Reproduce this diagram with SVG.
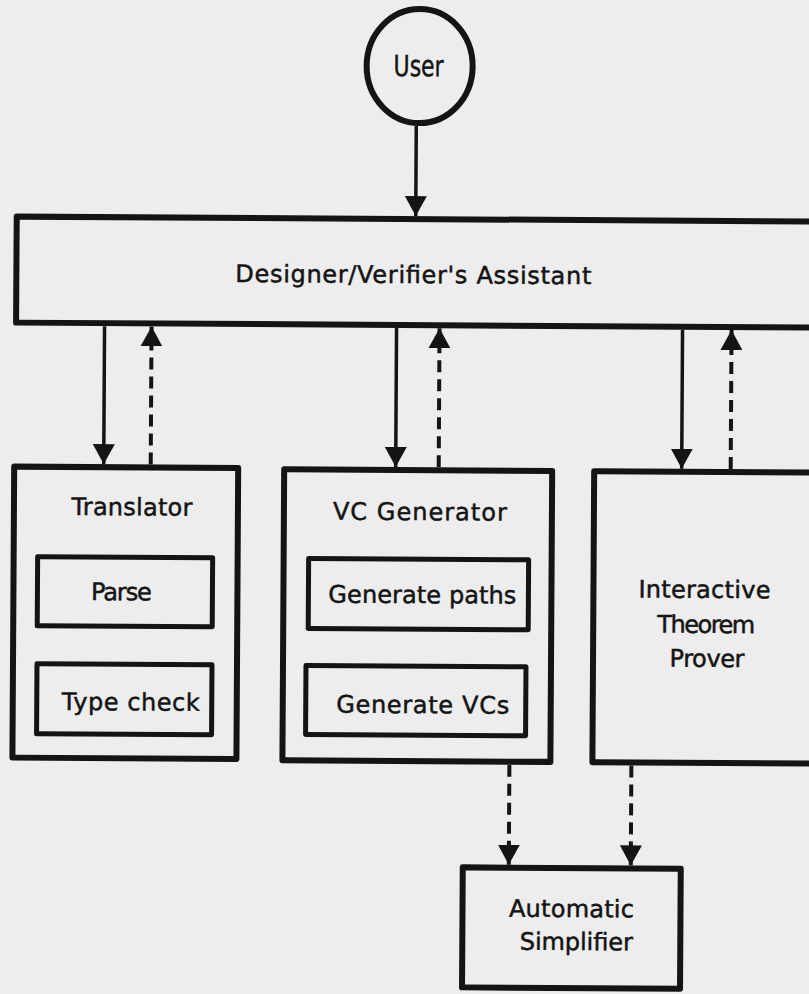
<svg xmlns="http://www.w3.org/2000/svg" width="809" height="994" viewBox="0 0 809 994">
  <defs>
    <style>
      .box { fill: none; stroke: #141414; stroke-width: 6; stroke-linejoin: round; }
      .inner { fill: none; stroke: #141414; stroke-width: 5; stroke-linejoin: round; }
      .lbl { font-family: "DejaVu Sans", "Liberation Sans", sans-serif; font-size: 24px; fill: #141414; stroke: #141414; stroke-width: 0.5; text-anchor: middle; }
      .big { font-size: 29px; }
      .flow { fill: none; stroke: #141414; stroke-width: 3.5; }
      .ret { fill: none; stroke: #141414; stroke-width: 4; stroke-dasharray: 12 7; }
    </style>
    <marker id="head" markerUnits="userSpaceOnUse" viewBox="0 0 20 22" refX="20" refY="11" markerWidth="20" markerHeight="22" orient="auto">
      <path d="M0,0 L20,11 L0,22 Z" fill="#141414"/>
    </marker>
  </defs>

  <!-- paper -->
  <rect width="809" height="994" fill="#ededed"/>

  <g transform="rotate(0.35 405 500)">
    <!-- user -->
    <g id="user">
      <ellipse class="box" cx="417" cy="66" rx="53" ry="57"/>
      <text class="lbl big" x="416" y="76" textLength="50" lengthAdjust="spacingAndGlyphs">User</text>
    </g>

    <!-- designer / verifier's assistant, runs off the right edge -->
    <g id="assistant">
      <rect class="box" x="15" y="219" width="830" height="106"/>
      <text class="lbl" x="412" y="283" textLength="356" lengthAdjust="spacing">Designer/Verifier's Assistant</text>
    </g>

    <!-- translator -->
    <g id="translator">
      <rect class="box" x="14" y="469" width="224" height="291"/>
      <text class="lbl" x="132" y="517" textLength="121" lengthAdjust="spacing">Translator</text>
    </g>
    <g id="parse">
      <rect class="inner" x="38" y="559" width="175" height="69"/>
      <text class="lbl" x="122" y="602" textLength="61" lengthAdjust="spacing">Parse</text>
    </g>
    <g id="type-check">
      <rect class="inner" x="38" y="666" width="175" height="70"/>
      <text class="lbl" x="132" y="712" textLength="138" lengthAdjust="spacing">Type check</text>
    </g>

    <!-- vc generator -->
    <g id="vc-generator">
      <rect class="box" x="284" y="470" width="268" height="291"/>
      <text class="lbl" x="420" y="520" textLength="174" lengthAdjust="spacing">VC Generator</text>
    </g>
    <g id="generate-paths">
      <rect class="inner" x="309" y="559" width="220" height="70"/>
      <text class="lbl" x="423" y="603" textLength="188" lengthAdjust="spacing">Generate paths</text>
    </g>
    <g id="generate-vcs">
      <rect class="inner" x="307" y="666" width="220" height="69"/>
      <text class="lbl" x="424" y="713" textLength="173" lengthAdjust="spacing">Generate VCs</text>
    </g>

    <!-- interactive theorem prover, runs off the right edge -->
    <g id="prover">
      <rect class="box" x="594" y="470" width="240" height="291"/>
      <text class="lbl" x="705" y="596" textLength="132" lengthAdjust="spacing">Interactive</text>
      <text class="lbl" x="707" y="631" textLength="98" lengthAdjust="spacing">Theorem</text>
      <text class="lbl" x="708" y="665" textLength="75" lengthAdjust="spacing">Prover</text>
    </g>

    <!-- automatic simplifier -->
    <g id="simplifier">
      <rect class="box" x="465" y="867" width="218" height="120"/>
      <text class="lbl" x="574" y="916" textLength="125" lengthAdjust="spacing">Automatic</text>
      <text class="lbl" x="579" y="949" textLength="113" lengthAdjust="spacing">Simplifier</text>
    </g>

    <!-- connectors: solid = request, dashed = result -->
    <g id="connectors">
      <line class="flow" x1="414" y1="126" x2="414" y2="216" marker-end="url(#head)"/>

      <line class="flow" x1="103.5" y1="328" x2="103.5" y2="466" marker-end="url(#head)"/>
      <line class="ret" x1="150.5" y1="466" x2="150.5" y2="328" marker-end="url(#head)"/>

      <line class="flow" x1="395.5" y1="328" x2="395.5" y2="467" marker-end="url(#head)"/>
      <line class="ret" x1="438.5" y1="467" x2="438.5" y2="328" marker-end="url(#head)"/>

      <line class="flow" x1="681.5" y1="328" x2="681.5" y2="467" marker-end="url(#head)"/>
      <line class="ret" x1="730.5" y1="467" x2="730.5" y2="328" marker-end="url(#head)"/>

      <line class="ret" x1="511" y1="764" x2="511" y2="864" marker-end="url(#head)"/>
      <line class="ret" x1="633" y1="764" x2="633" y2="864" marker-end="url(#head)"/>
    </g>
  </g>
</svg>
